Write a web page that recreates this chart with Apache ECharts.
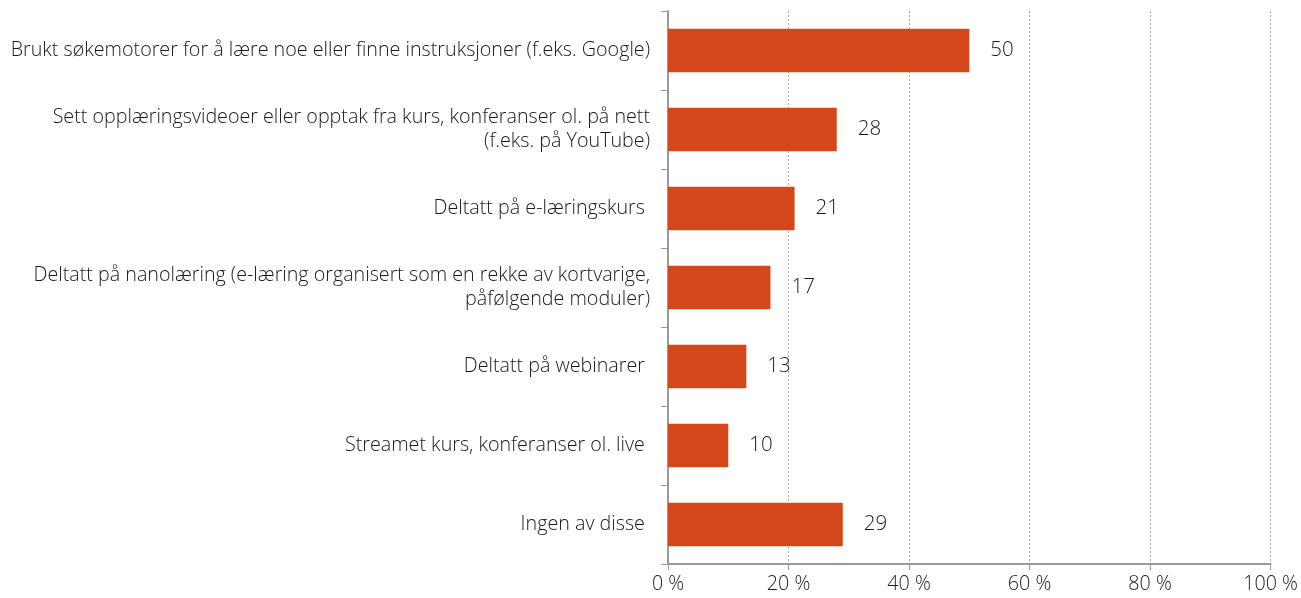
<!DOCTYPE html>
<html><head><meta charset="utf-8">
<script src="https://cdn.jsdelivr.net/npm/echarts@6/dist/echarts.min.js"></script>
<style>html,body{margin:0;padding:0;background:#fff}#c{width:1301px;height:598px}</style>
</head><body><div id="c"></div>
<script>
const categories = [
  "Brukt søkemotorer for å lære noe eller finne instruksjoner (f.eks. Google)",
  "Sett opplæringsvideoer eller opptak fra kurs, konferanser ol. på nett\n(f.eks. på YouTube)",
  "Deltatt på e-læringskurs ",
  "Deltatt på nanolæring (e-læring organisert som en rekke av kortvarige,\npåfølgende moduler)",
  "Deltatt på webinarer ",
  "Streamet kurs, konferanser ol. live ",
  "Ingen av disse "
];
const values = [50, 28, 21, 17, 13, 10, 29];
const xTicks = [0, 20, 40, 60, 80, 100];

const FONT = "Open Sans";
const chart = echarts.init(document.getElementById('c'), null, {renderer: 'canvas'});
chart.setOption({
  animation: false,
  grid: {left: 668, right: 23, top: 11, bottom: 34, containLabel: false},
  xAxis: {
    type: 'value', min: 0, max: 100, interval: 20,
    axisLine: {show: true, lineStyle: {color: '#9a9a9a', width: 2}},
    axisTick: {show: true, length: 6, lineStyle: {color: '#9a9a9a', width: 1}},
    splitLine: {show: true, lineStyle: {color: '#a8a8a8', type: [2, 2], width: 1}},
    axisLabel: {formatter: v => v + ' %', color: '#222', fontFamily: FONT, fontWeight: 300, fontSize: 19.7, margin: 10}
  },
  yAxis: {
    type: 'category', inverse: true, data: categories,
    axisLine: {show: true, lineStyle: {color: '#9a9a9a', width: 2}},
    axisTick: {show: true, length: 7, lineStyle: {color: '#9a9a9a', width: 1}},
    axisLabel: {color: '#1a1a1a', fontFamily: FONT, fontWeight: 300, fontSize: 19.7, margin: 18, lineHeight: 24}
  },
  series: [{
    type: 'bar', data: values, barCategoryGap: '45%',
    itemStyle: {color: '#D4471A'},
    label: {show: true, position: 'right', distance: 21, color: '#1a1a1a', fontFamily: FONT, fontWeight: 300, fontSize: 20.5}
  }]
});
</script></body></html>
